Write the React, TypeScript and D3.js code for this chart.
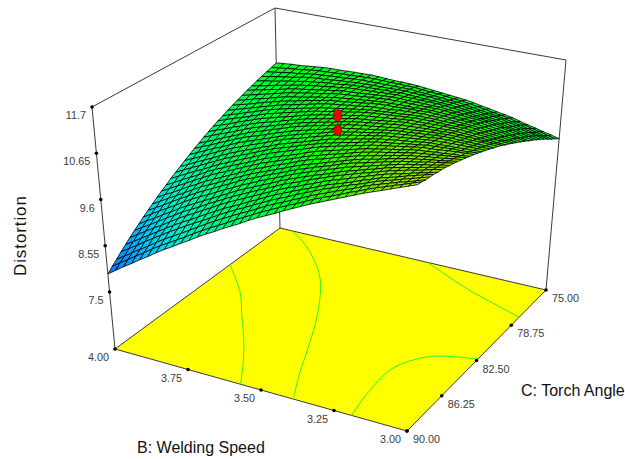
import React from "react";
import * as d3 from "d3";

// Axis values
const speedTicks = [4.0, 3.75, 3.5, 3.25, 3.0];
const angleTicks = [90, 86.25, 82.5, 78.75, 75];
const distortionTicks = [7.5, 8.55, 9.6, 10.65, 11.7];
const distortionFloor = 6.207;

// Design points at the centre of the box, B = 3.50, C = 82.50
const centreSpeed = 3.5;
const centreAngle = 82.5;
const centrePoints = [11.08, 11.0, 10.72, 10.68];

// Floor contours as [speed, angle]
const contourA = [[4.0, 79.55], [3.87, 81.9], [3.79, 83.85], [3.71, 85.8], [3.63, 88.05], [3.57, 90]];
const contourB = [[3.96, 75], [3.91, 75.45], [3.8, 76.95], [3.695, 78.9], [3.58, 82.28], [3.5, 85.43], [3.45, 87.6], [3.39, 90]];
const contourC = [[3.444, 75], [3.245, 76.5], [3.09, 77.4], [3.0, 77.91]];
const contourD = [[3.19, 90], [3.21, 87.75], [3.215, 85.2], [3.18, 83.85], [3.135, 83.1], [3.07, 82.65], [3.0, 82.35]];

// Surface heights, estimated by hand from the silhouette and colour bands.
// Rows run from C = 90 to C = 75, columns from B = 4 to B = 3.
const distortion = [
  [7.91,8.04,8.17,8.29,8.42,8.54,8.67,8.79,8.90,9.02,9.13,9.25,9.36,9.46,9.57,9.67,9.77,9.88,9.98,10.07,10.16,10.26,10.35,10.44,10.53,10.61,10.69,10.77,10.85,10.93,11.01,11.08,11.15,11.22,11.29,11.36,11.43],
  [8.01,8.14,8.26,8.39,8.51,8.64,8.76,8.87,8.98,9.09,9.21,9.32,9.43,9.53,9.63,9.74,9.84,9.94,10.04,10.13,10.22,10.31,10.39,10.48,10.57,10.65,10.72,10.80,10.88,10.95,11.03,11.10,11.16,11.23,11.29,11.36,11.42],
  [8.10,8.22,8.35,8.47,8.59,8.72,8.84,8.95,9.06,9.17,9.29,9.40,9.51,9.61,9.71,9.81,9.90,10.00,10.10,10.19,10.27,10.36,10.44,10.53,10.61,10.68,10.76,10.83,10.90,10.98,11.05,11.11,11.17,11.23,11.28,11.34,11.40],
  [8.20,8.32,8.44,8.57,8.69,8.81,8.93,9.04,9.15,9.26,9.36,9.47,9.58,9.68,9.78,9.87,9.97,10.06,10.16,10.24,10.32,10.41,10.49,10.57,10.65,10.72,10.79,10.86,10.92,10.99,11.06,11.12,11.17,11.23,11.28,11.34,11.39],
  [8.29,8.41,8.53,8.65,8.77,8.89,9.01,9.12,9.22,9.33,9.44,9.54,9.65,9.74,9.83,9.93,10.02,10.12,10.21,10.29,10.37,10.45,10.52,10.60,10.68,10.74,10.80,10.87,10.94,11.00,11.07,11.12,11.17,11.23,11.28,11.33,11.38],
  [8.38,8.50,8.62,8.74,8.85,8.97,9.09,9.20,9.30,9.41,9.51,9.62,9.72,9.81,9.90,9.99,10.08,10.17,10.26,10.34,10.41,10.49,10.56,10.64,10.71,10.77,10.83,10.90,10.96,11.02,11.08,11.13,11.17,11.22,11.27,11.31,11.36],
  [8.47,8.59,8.70,8.82,8.94,9.05,9.17,9.27,9.37,9.48,9.58,9.68,9.78,9.87,9.96,10.05,10.13,10.22,10.31,10.38,10.45,10.53,10.60,10.67,10.74,10.80,10.86,10.92,10.97,11.03,11.09,11.13,11.18,11.22,11.26,11.31,11.35],
  [8.55,8.67,8.78,8.90,9.01,9.13,9.24,9.34,9.44,9.54,9.64,9.74,9.84,9.93,10.01,10.10,10.18,10.27,10.35,10.42,10.49,10.56,10.62,10.69,10.76,10.82,10.87,10.93,10.98,11.04,11.09,11.13,11.17,11.21,11.25,11.29,11.33],
  [8.64,8.75,8.87,8.98,9.09,9.21,9.32,9.42,9.51,9.61,9.71,9.80,9.90,9.98,10.07,10.15,10.23,10.31,10.39,10.46,10.53,10.59,10.66,10.72,10.79,10.84,10.89,10.94,10.99,11.04,11.09,11.13,11.16,11.20,11.23,11.27,11.30],
  [8.72,8.83,8.94,9.06,9.17,9.28,9.39,9.49,9.58,9.68,9.77,9.87,9.96,10.04,10.12,10.20,10.27,10.35,10.43,10.49,10.56,10.62,10.68,10.75,10.81,10.86,10.90,10.95,11.00,11.04,11.09,11.12,11.15,11.19,11.22,11.25,11.28],
  [8.80,8.91,9.02,9.13,9.24,9.35,9.46,9.55,9.64,9.74,9.83,9.92,10.01,10.09,10.16,10.24,10.31,10.39,10.46,10.52,10.58,10.64,10.70,10.76,10.82,10.87,10.91,10.95,11.00,11.04,11.08,11.11,11.14,11.17,11.19,11.22,11.25],
  [8.88,8.99,9.09,9.20,9.31,9.41,9.52,9.61,9.70,9.79,9.88,9.97,10.06,10.13,10.21,10.28,10.35,10.43,10.50,10.56,10.61,10.67,10.73,10.78,10.84,10.88,10.92,10.96,11.00,11.04,11.08,11.10,11.13,11.15,11.17,11.20,11.22],
  [8.96,9.06,9.17,9.27,9.38,9.48,9.59,9.68,9.76,9.85,9.94,10.02,10.11,10.18,10.25,10.32,10.39,10.46,10.53,10.58,10.64,10.69,10.74,10.80,10.85,10.89,10.93,10.96,11.00,11.03,11.07,11.09,11.11,11.13,11.15,11.17,11.19],
  [9.03,9.13,9.24,9.34,9.44,9.55,9.65,9.73,9.82,9.90,9.98,10.07,10.15,10.22,10.29,10.35,10.42,10.49,10.56,10.61,10.66,10.71,10.76,10.81,10.86,10.89,10.93,10.96,10.99,11.03,11.06,11.07,11.09,11.10,11.12,11.13,11.15],
  [9.11,9.21,9.31,9.41,9.50,9.60,9.70,9.78,9.87,9.95,10.03,10.12,10.20,10.27,10.33,10.40,10.46,10.53,10.59,10.64,10.69,10.73,10.78,10.82,10.87,10.90,10.93,10.96,10.99,11.02,11.05,11.06,11.07,11.09,11.10,11.11,11.12],
  [9.18,9.28,9.38,9.47,9.57,9.66,9.76,9.84,9.92,10.00,10.08,10.16,10.24,10.30,10.36,10.43,10.49,10.55,10.61,10.65,10.70,10.74,10.78,10.83,10.87,10.90,10.92,10.95,10.98,11.00,11.03,11.04,11.05,11.06,11.06,11.07,11.08],
  [9.25,9.34,9.44,9.53,9.62,9.72,9.81,9.89,9.97,10.04,10.12,10.19,10.27,10.33,10.39,10.45,10.51,10.57,10.63,10.67,10.71,10.75,10.79,10.83,10.87,10.89,10.92,10.94,10.96,10.99,11.01,11.01,11.02,11.02,11.03,11.03,11.04],
  [9.32,9.41,9.50,9.60,9.69,9.78,9.87,9.94,10.02,10.09,10.16,10.24,10.31,10.37,10.42,10.48,10.54,10.59,10.65,10.69,10.73,10.76,10.80,10.83,10.87,10.89,10.91,10.93,10.95,10.97,10.99,10.99,11.00,11.00,11.00,11.00,11.00],
  [9.39,9.48,9.57,9.66,9.74,9.83,9.92,9.99,10.06,10.13,10.20,10.27,10.34,10.39,10.45,10.50,10.55,10.61,10.66,10.69,10.73,10.76,10.79,10.83,10.86,10.88,10.90,10.92,10.93,10.95,10.97,10.97,10.97,10.97,10.96,10.96,10.96],
  [9.46,9.55,9.63,9.72,9.80,9.89,9.97,10.04,10.10,10.17,10.24,10.30,10.37,10.42,10.47,10.52,10.57,10.62,10.67,10.70,10.73,10.76,10.79,10.82,10.85,10.87,10.88,10.90,10.91,10.93,10.94,10.94,10.93,10.93,10.92,10.92,10.91],
  [9.52,9.60,9.68,9.77,9.85,9.93,10.01,10.08,10.14,10.21,10.27,10.34,10.40,10.45,10.50,10.54,10.59,10.63,10.68,10.71,10.74,10.76,10.79,10.81,10.84,10.85,10.86,10.88,10.89,10.90,10.91,10.91,10.90,10.89,10.89,10.88,10.87],
  [9.59,9.67,9.75,9.82,9.90,9.98,10.06,10.12,10.18,10.24,10.30,10.36,10.42,10.46,10.51,10.55,10.59,10.64,10.68,10.71,10.73,10.76,10.78,10.81,10.83,10.84,10.85,10.86,10.86,10.87,10.88,10.87,10.86,10.85,10.84,10.83,10.82],
  [9.65,9.73,9.80,9.88,9.95,10.03,10.10,10.16,10.21,10.27,10.33,10.38,10.44,10.48,10.52,10.56,10.60,10.64,10.68,10.70,10.72,10.75,10.77,10.80,10.82,10.82,10.83,10.83,10.83,10.84,10.84,10.83,10.82,10.80,10.79,10.77,10.76],
  [9.71,9.78,9.85,9.93,10.00,10.07,10.14,10.19,10.25,10.30,10.35,10.41,10.46,10.50,10.54,10.57,10.61,10.64,10.68,10.70,10.72,10.74,10.76,10.78,10.80,10.80,10.80,10.81,10.81,10.81,10.81,10.79,10.78,10.76,10.74,10.73,10.71],
  [9.77,9.84,9.91,9.97,10.04,10.11,10.18,10.23,10.28,10.33,10.38,10.43,10.48,10.51,10.55,10.58,10.61,10.65,10.68,10.70,10.72,10.73,10.75,10.76,10.78,10.78,10.78,10.78,10.77,10.77,10.77,10.75,10.73,10.71,10.69,10.67,10.65],
  [9.82,9.89,9.95,10.02,10.08,10.15,10.21,10.26,10.31,10.35,10.40,10.44,10.49,10.52,10.55,10.58,10.61,10.64,10.67,10.68,10.70,10.71,10.72,10.74,10.75,10.75,10.75,10.74,10.74,10.73,10.73,10.71,10.68,10.66,10.64,10.61,10.59],
  [9.88,9.94,10.00,10.06,10.12,10.18,10.24,10.29,10.33,10.38,10.42,10.47,10.51,10.54,10.56,10.59,10.61,10.64,10.66,10.67,10.68,10.70,10.71,10.72,10.73,10.72,10.72,10.71,10.70,10.69,10.68,10.66,10.63,10.61,10.58,10.56,10.53],
  [9.93,9.99,10.04,10.10,10.16,10.21,10.27,10.31,10.35,10.40,10.44,10.48,10.52,10.54,10.56,10.59,10.61,10.64,10.66,10.67,10.67,10.68,10.69,10.69,10.70,10.69,10.68,10.67,10.66,10.65,10.64,10.61,10.58,10.56,10.53,10.50,10.47],
  [9.98,10.03,10.09,10.14,10.19,10.25,10.30,10.34,10.37,10.41,10.45,10.48,10.52,10.54,10.56,10.58,10.60,10.62,10.64,10.64,10.65,10.65,10.65,10.66,10.66,10.65,10.64,10.63,10.61,10.60,10.59,10.56,10.53,10.50,10.46,10.43,10.40],
  [10.03,10.08,10.13,10.18,10.23,10.28,10.33,10.36,10.40,10.43,10.46,10.50,10.53,10.55,10.56,10.58,10.60,10.61,10.63,10.63,10.63,10.63,10.63,10.63,10.63,10.62,10.60,10.59,10.57,10.56,10.54,10.51,10.48,10.44,10.41,10.37,10.34],
  [10.08,10.13,10.17,10.22,10.26,10.31,10.35,10.38,10.41,10.44,10.47,10.50,10.53,10.54,10.55,10.57,10.58,10.60,10.61,10.61,10.60,10.60,10.60,10.59,10.59,10.57,10.55,10.54,10.52,10.50,10.48,10.45,10.41,10.38,10.34,10.31,10.27],
  [10.12,10.16,10.20,10.25,10.29,10.33,10.37,10.40,10.43,10.45,10.48,10.50,10.53,10.54,10.55,10.56,10.57,10.58,10.59,10.58,10.58,10.57,10.57,10.56,10.55,10.53,10.51,10.49,10.46,10.44,10.42,10.38,10.34,10.31,10.27,10.24,10.20],
  [10.17,10.21,10.24,10.28,10.32,10.35,10.39,10.41,10.44,10.46,10.47,10.50,10.52,10.53,10.54,10.54,10.55,10.55,10.56,10.55,10.54,10.53,10.52,10.51,10.50,10.48,10.46,10.43,10.41,10.38,10.36,10.32,10.28,10.25,10.21,10.17,10.13],
  [10.21,10.24,10.28,10.31,10.34,10.38,10.41,10.43,10.44,10.46,10.48,10.49,10.51,10.51,10.52,10.52,10.52,10.53,10.53,10.52,10.51,10.50,10.48,10.47,10.46,10.43,10.41,10.38,10.35,10.33,10.30,10.26,10.22,10.18,10.13,10.09,10.05],
  [10.25,10.28,10.31,10.34,10.36,10.39,10.42,10.43,10.45,10.46,10.47,10.49,10.50,10.50,10.50,10.50,10.50,10.50,10.50,10.48,10.47,10.45,10.44,10.42,10.41,10.38,10.35,10.32,10.29,10.26,10.23,10.19,10.15,10.10,10.06,10.01,9.97],
  [10.29,10.31,10.34,10.36,10.38,10.41,10.43,10.44,10.45,10.46,10.47,10.48,10.49,10.49,10.49,10.48,10.48,10.47,10.47,10.45,10.43,10.42,10.40,10.38,10.36,10.33,10.30,10.27,10.23,10.20,10.17,10.12,10.08,10.03,9.99,9.94,9.90],
  [10.33,10.35,10.37,10.38,10.40,10.42,10.44,10.45,10.45,10.46,10.47,10.47,10.48,10.47,10.46,10.45,10.45,10.44,10.43,10.41,10.39,10.37,10.35,10.33,10.31,10.28,10.24,10.21,10.17,10.14,10.10,10.05,10.00,9.96,9.91,9.87,9.82],
];

// Frame of the box on the page
const floorFrame = { back: [280, 228], left: [115, 349], right: [546, 290], front: [407, 431] };
const roofFrame = { back: [275, 8], left: [92, 107], right: [566, 60], front: [418, 172] };

const scaleU = d3.scaleLinear().domain([4, 3]).range([0, 1]);
const scaleV = d3.scaleLinear().domain([90, 75]).range([0, 1]);
const scaleT = d3.scaleLinear().domain([distortionFloor, 11.7]).range([0, 1]);

// Blue through cyan and green to lime, as on the picture
const surfaceColor = d3
  .scaleLinear<string>()
  .domain([7.91, 8.6, 9.1, 9.8, 10.4, 10.95, 11.43])
  .range(["#0a6cff", "#00c8ff", "#00f2c0", "#00fa60", "#00ff1e", "#58ee00", "#b4e800"])
  .clamp(true);

const blend = (f: any, u: number, v: number, k: number) =>
  f.left[k] * (1 - u) * (1 - v) + f.front[k] * u * (1 - v) + f.back[k] * (1 - u) * v + f.right[k] * u * v;

function project(speed: number, angle: number, z: number): [number, number] {
  const u = scaleU(speed);
  const v = scaleV(angle);
  const t = scaleT(z);
  const at = (k: number) => blend(floorFrame, u, v, k) * (1 - t) + blend(roofFrame, u, v, k) * t;
  return [at(0), at(1)];
}

const columnSpeed = d3.scaleLinear().domain([0, distortion[0].length - 1]).range([4, 3]);
const rowAngle = d3.scaleLinear().domain([0, distortion.length - 1]).range([90, 75]);

const path2 = (pts: number[][]) => "M" + pts.map((p) => p.join(",")).join("L") + "Z";
const contourLine = d3.line().curve(d3.curveCatmullRom.alpha(0.5));

function App() {
  // Paint the far cells first
  const cells = [];
  for (let r = distortion.length - 2; r >= 0; r--) {
    for (let c = 0; c < distortion[r].length - 1; c++) {
      const corners = [[r, c], [r, c + 1], [r + 1, c + 1], [r + 1, c]];
      const pts = corners.map(([a, b]) => project(columnSpeed(b), rowAngle(a), distortion[a][b]));
      const mean = d3.mean(corners, ([a, b]) => distortion[a][b]) as number;
      cells.push(<path key={r + "-" + c} d={path2(pts)} fill={surfaceColor(mean)} stroke="#000" strokeWidth={0.8} strokeLinejoin="round" shapeRendering="crispEdges" />);
    }
  }

  const floorCorners = [
    project(4, 90, distortionFloor),
    project(3, 90, distortionFloor),
    project(3, 75, distortionFloor),
    project(4, 75, distortionFloor),
  ];
  const frameLine = { stroke: "#3a3a3a", strokeWidth: 1, fill: "none" };
  const tickFont = { fontFamily: "Liberation Sans", fontSize: 10.8, fill: "#3c3c3c" };
  const titleFont = { fontFamily: "Liberation Sans", fontSize: 16, fill: "#111" };
  const stem = project(centreSpeed, centreAngle, d3.min(centrePoints) as number);
  const stemTop = project(centreSpeed, centreAngle, d3.max(centrePoints) as number);

  return (
    <svg width={625} height={459} style={{ position: "absolute", left: 0, top: 0, background: "#fff" }}>
      {/* Box edges behind the surface */}
      <path d={"M" + project(4, 90, distortionFloor) + "L" + project(4, 90, 11.7) + "L" + project(4, 75, 11.7) + "L" + project(3, 75, 11.7) + "L" + project(3, 75, distortionFloor)} {...frameLine} />
      <path d={"M" + project(4, 75, 11.7) + "L" + project(4, 75, distortionFloor)} {...frameLine} />

      {/* Floor and its contours */}
      <path d={path2(floorCorners)} fill="#ffff00" stroke="#3a3a3a" strokeWidth={1} />
      {[contourA, contourB, contourC, contourD].map((line, i) => (
        <path
          key={i}
          d={contourLine(line.map(([s, a]) => project(s, a, distortionFloor))) as string}
          fill="none"
          stroke="#30f030"
          strokeWidth={1}
        />
      ))}

      {/* Surface */}
      {cells}

      {/* Design points */}
      <line x1={stem[0]} y1={stem[1]} x2={stemTop[0]} y2={stemTop[1]} stroke="#7a0000" strokeWidth={1} />
      {centrePoints.map((z, i) => {
        const [x, y] = project(centreSpeed, centreAngle, z);
        return <circle key={i} cx={x} cy={y} r={4} fill="#f80000" stroke="#a00000" strokeWidth={0.6} />;
      })}

      {/* Ticks and labels */}
      {distortionTicks.map((z) => {
        const [x, y] = project(4, 90, z);
        return (
          <g key={z}>
            <circle cx={x} cy={y} r={1.8} fill="#000" />
            <text x={x - 6} y={y + 12} textAnchor="end" {...tickFont}>{String(z)}</text>
          </g>
        );
      })}
      {speedTicks.map((s) => {
        const [x, y] = project(s, 90, distortionFloor);
        return (
          <g key={s}>
            <circle cx={x} cy={y} r={1.8} fill="#000" />
            <text x={x - 6} y={y + 12} textAnchor="end" {...tickFont}>{s.toFixed(2)}</text>
          </g>
        );
      })}
      {angleTicks.map((a) => {
        const [x, y] = project(3, a, distortionFloor);
        return (
          <g key={a}>
            <circle cx={x} cy={y} r={1.8} fill="#000" />
            <text x={x + 6} y={y + 12} {...tickFont}>{a.toFixed(2)}</text>
          </g>
        );
      })}

      {/* Axis titles */}
      <text x={137} y={453} {...titleFont}>B: Welding Speed</text>
      <text x={521} y={396} {...titleFont}>C: Torch Angle</text>
      <text transform="translate(26,276) rotate(-90)" {...titleFont} letterSpacing={0.9} fontSize={17}>Distortion</text>
    </svg>
  );
}

export default App;
